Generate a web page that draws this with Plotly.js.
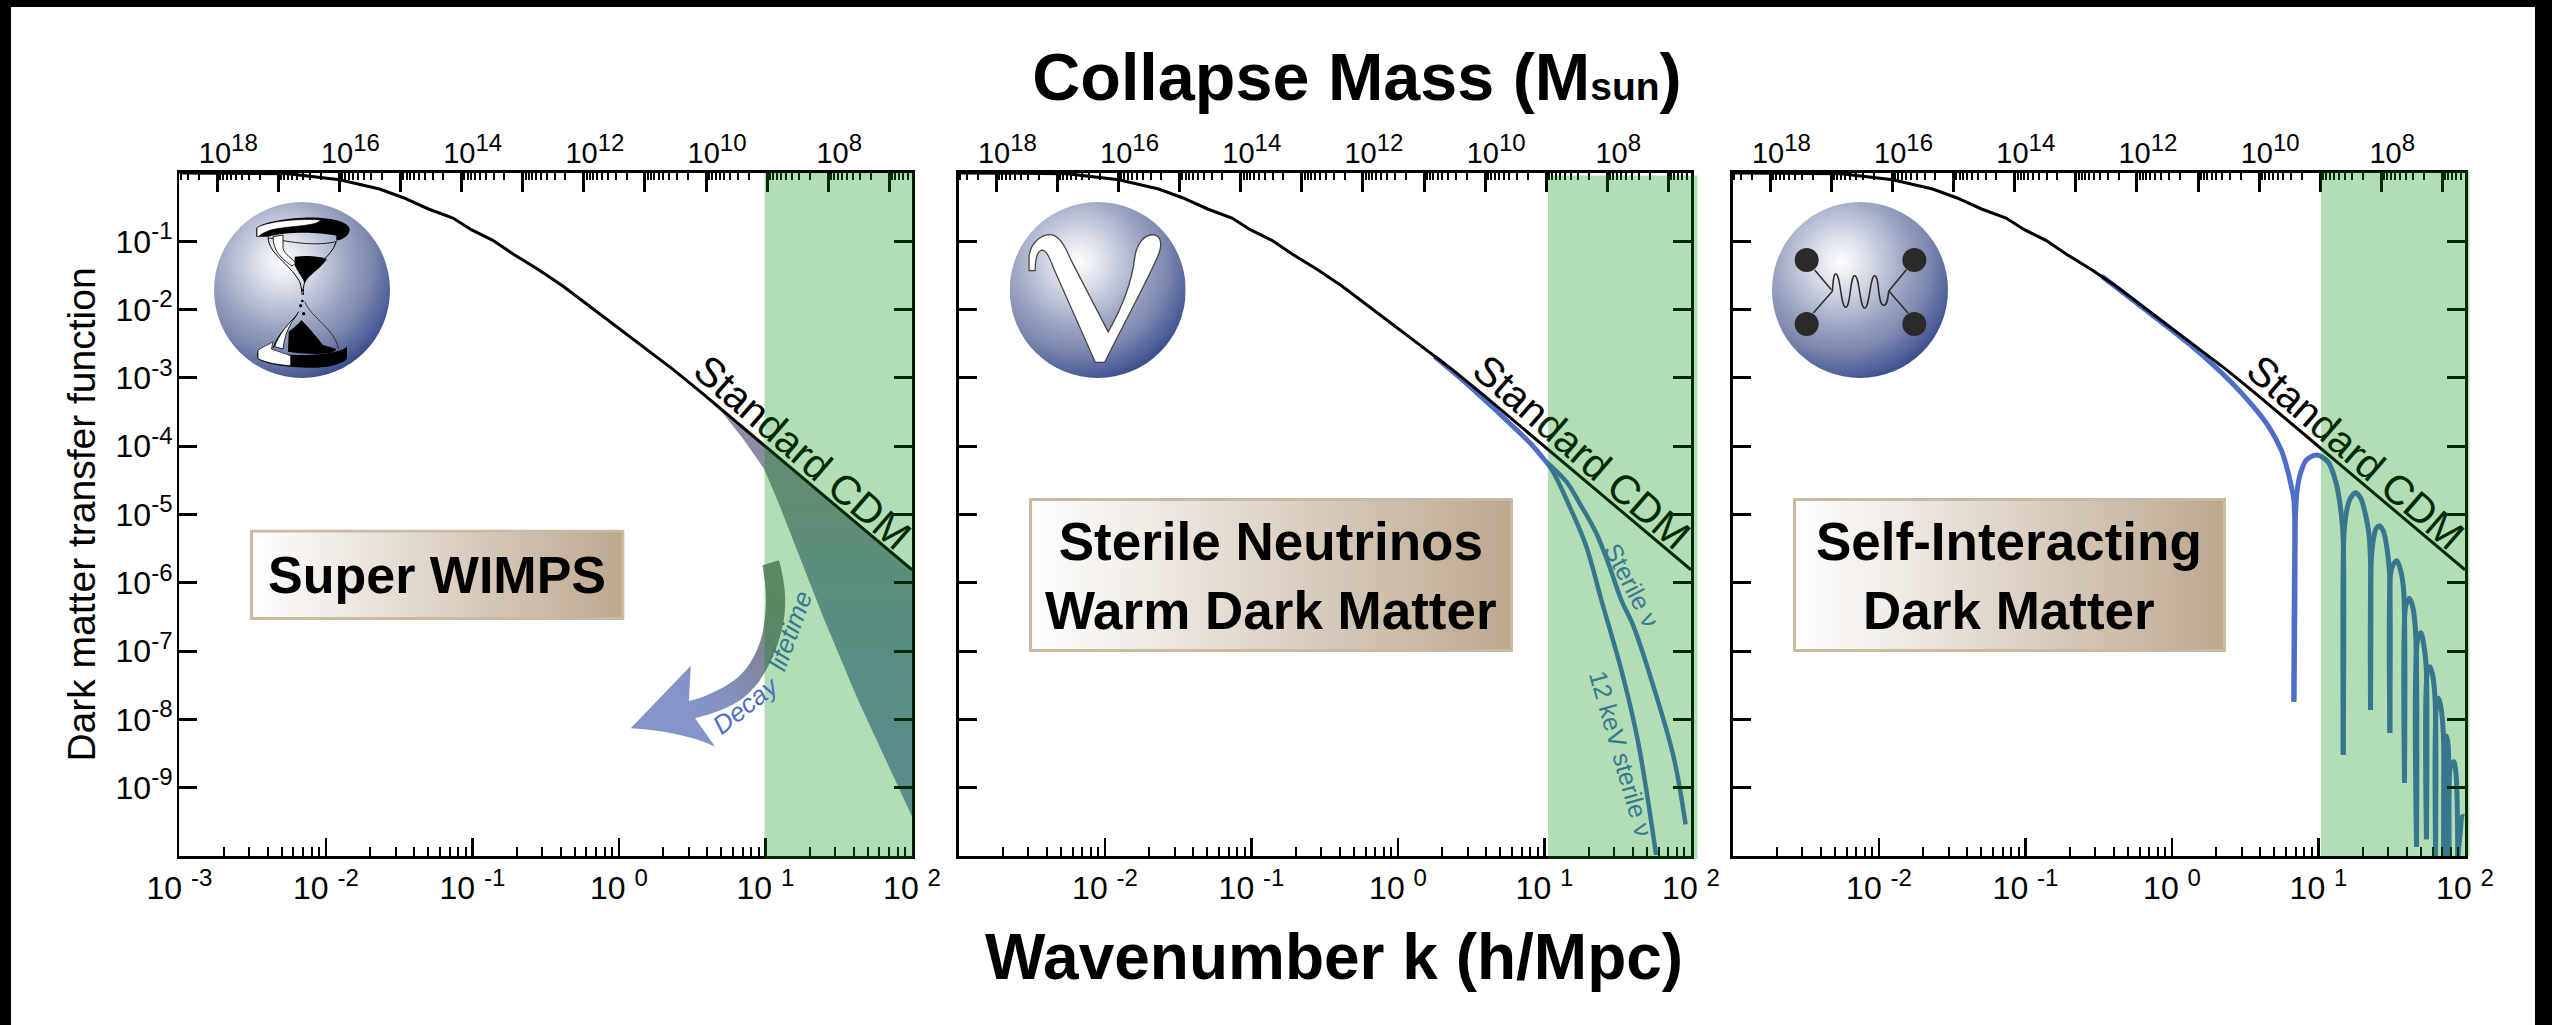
<!DOCTYPE html>
<html><head><meta charset="utf-8">
<script src="https://cdn.plot.ly/plotly-3.0.1.min.js"></script>
<style>html,body{margin:0;padding:0;background:#fff;overflow:hidden}</style>
</head><body><div id="chart" style="width:2552px;height:1025px"></div>
<script>
// ---------- data (log10 k, log10 T) ----------
const cdmLogK = [-3,-2.553,-2.26,-1.906,-1.634,-1.467,-1.30,-1.133,-1.008,-0.861,-0.715,-0.548,-0.381,-0.214,-0.047,0.162,0.371,0.58,0.998,1.373,2];
const cdmLogT = [0,-0.005,-0.01,-0.098,-0.234,-0.366,-0.527,-0.659,-0.83,-0.986,-1.196,-1.415,-1.659,-1.928,-2.196,-2.538,-2.879,-3.245,-4.0,-4.68,-5.81];
const decayEdgeLogK = [0.58,0.706,0.852,0.99,1.081,1.394,1.624,2];
const decayEdgeLogT = [-3.27,-3.51,-3.904,-4.33,-4.787,-6.5,-7.68,-9.42];
const wdmSharedLogK = [0.25,0.423,0.77,0.909,1.0];
const wdmSharedLogT = [-2.69,-3.0,-3.68,-3.97,-4.2];
const sterileLogK = [1.024,1.149,1.24,1.354,1.444,1.524,1.605,1.744,1.883,1.963];
const sterileLogT = [-4.25,-4.52,-4.836,-5.275,-5.764,-6.252,-6.624,-7.52,-8.566,-9.537];
const keV12LogK = [1.058,1.172,1.286,1.388,1.536,1.64,1.762];
const keV12LogT = [-4.373,-4.886,-5.471,-6.252,-7.371,-8.342,-9.985];
const sidmLogK = [-0.481,-0.232,0.125,0.411,0.553,0.66,0.746,0.776,0.81,0.832,0.832,null,
 0.832,0.848,0.871,0.917,0.989,1.064,1.121,1.155,1.169,1.169,null,
 1.169,1.173,1.189,1.217,1.253,1.289,1.319,1.344,1.355,1.355,null,
 1.355,1.36,1.376,1.394,1.417,1.444,1.469,1.485,1.487,null,
 1.487,1.492,1.508,1.535,1.56,1.581,1.587,null,
 1.587,1.594,1.61,1.621,1.64,1.662,1.669,null,
 1.669,1.676,1.699,1.719,1.735,1.737,null,
 1.737,1.744,1.762,1.781,1.797,1.799,null,
 1.799,1.806,1.819,1.835,1.853,1.855,null,
 1.855,1.865,1.874,1.885,1.89,null,
 1.89,1.901,1.924,1.94,1.951,null,
 1.951,1.967,1.981,1.995];
const sidmLogT = [-1.509,-1.919,-2.517,-3.077,-3.413,-3.712,-4.056,-4.251,-4.544,-4.788,-7.74,null,
 -7.74,-4.788,-4.446,-4.202,-4.129,-4.227,-4.544,-4.983,-5.374,-8.52,null,
 -8.52,-5.325,-4.983,-4.764,-4.681,-4.764,-4.983,-5.276,-5.667,-7.863,null,
 -7.863,-5.667,-5.349,-5.203,-5.169,-5.252,-5.52,-5.862,-8.195,null,
 -8.195,-5.862,-5.74,-5.676,-5.813,-6.106,-8.927,null,
 -8.927,-6.35,-6.262,-6.228,-6.325,-6.691,-9.864,null,
 -9.864,-6.838,-6.73,-6.911,-7.228,-9.756,null,
 -9.756,-7.301,-7.228,-7.375,-7.765,-10,null,
 -10,-7.765,-7.692,-7.814,-8.253,-10,null,
 -10,-8.302,-8.243,-8.375,-10,null,
 -10,-8.692,-8.619,-8.839,-10,null,
 -10,-9.669,-9.424,-9.424];
const xTickExps = [-3,-2,-1,0,1,2];
const yTickExps = [-1,-2,-3,-4,-5,-6,-7,-8,-9];
const massExps = [18,17,16,15,14,13,12,11,10,9,8,7];
const massLabelExps = [18,16,14,12,10,8];
const minorDigits = [2,3,4,5,6,7,8,9];
const panelNames = ['Super WIMPS','Sterile Neutrinos<br>Warm Dark Matter','Self-Interacting<br>Dark Matter'];

// ---------- page geometry ----------
const W = 2552, H = 1025, FONT = '"Liberation Sans", Arial, sans-serif';
const panels = [{l:179.4,r:912},{l:958.5,r:1691},{l:1732.5,r:2465}];
const plotTop = 173, plotBottom = 856;
const px = v => v / W, py = v => 1 - v / H;
const pow = a => a.map(v => v === null ? null : Math.pow(10, v));
const BLUE = '#4f6ec8';

const supLabel = (e, size, gap) => `10${gap ? ' ' : ''}<sup><span style="font-size:${size}px">${e}</span></sup>`;

// ---------- traces ----------
const traces = [];
const addCdm = (xa, ya) => traces.push({x: pow(cdmLogK), y: pow(cdmLogT), xaxis: xa, yaxis: ya, mode: 'lines', name: 'Standard CDM',
  line: {color: '#000', width: 3}, hoverinfo: 'skip', showlegend: false});

// panel 1 : decay wedge
const i0 = cdmLogK.indexOf(0.58);
traces.push({x: pow(cdmLogK.slice(i0).concat(decayEdgeLogK.slice().reverse())),
  y: pow(cdmLogT.slice(i0).concat(decayEdgeLogT.slice().reverse())),
  mode: 'lines', fill: 'toself', line: {width: 0}, name: 'Super WIMP decay', hoverinfo: 'skip', showlegend: false,
  fillgradient: {type: 'vertical', colorscale: [[0,'#7d8ec4'],[0.45,'#7e8eb6'],[0.75,'#8a8da2'],[1,'#8e8ca2']]}});
addCdm('x','y');

// panel 2 : sterile neutrinos
traces.push({x: pow(wdmSharedLogK.concat(sterileLogK)), y: pow(wdmSharedLogT.concat(sterileLogT)), xaxis:'x3', yaxis:'y2', mode:'lines',
  name:'Sterile ν', line:{color:BLUE,width:4.5,shape:'spline',smoothing:1}, hoverinfo:'skip', showlegend:false});
traces.push({x: pow(wdmSharedLogK.concat(keV12LogK)), y: pow(wdmSharedLogT.concat(keV12LogT)), xaxis:'x3', yaxis:'y2', mode:'lines',
  name:'12 keV sterile ν', line:{color:BLUE,width:4.5,shape:'spline',smoothing:1}, hoverinfo:'skip', showlegend:false});
addCdm('x3','y2');

// panel 3 : self-interacting
traces.push({x: pow(sidmLogK), y: pow(sidmLogT), xaxis:'x5', yaxis:'y3', mode:'lines', name:'Self-interacting',
  line:{color:BLUE,width:5,shape:'spline',smoothing:0.8}, hoverinfo:'skip', showlegend:false});
addCdm('x5','y3');

// top (mass) axes need something attached to them
['x2','x4','x6'].forEach((xa,i) => traces.push({x:[1e12], y:[1e-5], xaxis:xa, yaxis:i?'y'+(i+1):'y', mode:'markers', opacity:0, hoverinfo:'skip', showlegend:false}));

// ---------- layout ----------
const layout = {
  width: W, height: H, margin: {l:0,r:0,t:0,b:0}, paper_bgcolor:'#fff', plot_bgcolor:'rgba(0,0,0,0)', showlegend:false,
  font: {family: FONT, color:'#000'}, hovermode:false,
  title: {text:'Collapse Mass (M<span style="font-size:39px">sun</span>)', x: px(1357), xanchor:'center', y: py(77), yanchor:'middle', font:{family:FONT,size:66.5,weight:700,color:'#000'}},
  annotations: [], shapes: [], images: []
};

const minorMass = [];
for (let e = 6; e <= 18; e++) minorDigits.forEach(d => minorMass.push(d * Math.pow(10, e)));
const minorK = [];
for (let e = -3; e < 2; e++) minorDigits.forEach(d => minorK.push(d * Math.pow(10, e)));

panels.forEach((p, i) => {
  const n = i * 2;
  const xb = 'xaxis' + (n ? n + 1 : ''), xt = 'xaxis' + (n + 2), yn = 'yaxis' + (i ? i + 1 : '');
  const yRef = 'y' + (i ? i + 1 : ''), xbRef = 'x' + (n ? n + 1 : '');
  const dom = [px(p.l), px(p.r)];
  layout[xb] = {domain: dom, type:'log', range:[-3,2], anchor: yRef, side:'bottom', showgrid:false, zeroline:false,
    showline:true, linecolor:'#000', linewidth:3, ticks:'inside', ticklen:18, tickwidth:2.5, tickcolor:'#000',
    tickmode:'array', tickvals: pow(xTickExps),
    ticktext: xTickExps.map(e => (e === -3 && i > 0) ? '' : supLabel(e, 24, true)),
    tickfont:{family:FONT,size:32,color:'#000'}, ticklabelstandoff: 2, tickangle:0,
    minor:{ticks:'inside', ticklen:9, tickwidth:2, tickcolor:'#000', tickmode:'array', tickvals:minorK, showgrid:false}};
  layout[xt] = {domain: dom, type:'log', range:[18.62,6.63], anchor: yRef, overlaying: xbRef, side:'top', showgrid:false, zeroline:false,
    showline:true, linecolor:'#000', linewidth:3.5, ticks:'inside', ticklen:19, tickwidth:3, tickcolor:'#000',
    tickmode:'array', tickvals: pow(massExps),
    ticktext: massExps.map(e => massLabelExps.includes(e) ? supLabel(e, 24, false) : ''),
    tickfont:{family:FONT,size:29,color:'#000'}, ticklabelshift: -11, ticklabelstandoff: -5, tickangle:0,
    minor:{ticks:'inside', ticklen:7, tickwidth:2, tickcolor:'#000', tickmode:'array', tickvals:minorMass, showgrid:false}};
  layout[yn] = {domain:[py(plotBottom), py(plotTop)], type:'log', range:[-10,0], anchor: xbRef, side:'left', showgrid:false, zeroline:false,
    showline:true, linecolor:'#000', linewidth:2.5, mirror:'ticks', ticks:'inside', ticklen:18, tickwidth:3, tickcolor:'#000',
    tickmode:'array', tickvals: pow(yTickExps), ticktext: yTickExps.map(e => supLabel(e, 24, false)),
    showticklabels: i === 0, tickfont:{family:FONT,size:32,color:'#000'}, ticklabelstandoff: -2};
  if (i === 0) layout[yn].title = {text:'Dark matter transfer function', font:{family:FONT,size:39,color:'#000'}, standoff: 8};
});

// green band, semi-transparent and above everything so ticks and lines are tinted
const GREEN = 'rgba(0,143,10,0.30)';
[[764.5,913.5,173,859],[1548,1697.5,175.5,859],[2321,2469.5,171.5,856]].forEach(b =>
  layout.shapes.push({type:'rect', xref:'paper', yref:'paper', x0:px(b[0]), x1:px(b[1]), y0:py(b[3]), y1:py(b[2]), fillcolor:GREEN, line:{width:0}, layer:'above'}));
// page frame
[[0,11,0,H],[2535,W,0,H],[0,W,0,7]].forEach(b =>
  layout.shapes.push({type:'rect', xref:'paper', yref:'paper', x0:px(b[0]), x1:px(b[1]), y0:py(b[3]), y1:py(b[2]), fillcolor:'#000', line:{width:0}, layer:'below'}));

// ---------- decorative pictures ----------
const svgUri = (vb, body) => 'data:image/svg+xml;charset=utf-8,' + encodeURIComponent(
  `<svg xmlns="http://www.w3.org/2000/svg" viewBox="${vb}" preserveAspectRatio="none">${body}</svg>`);
const addImg = (x, y, w, h, source) => layout.images.push({source, xref:'paper', yref:'paper', x:px(x), y:py(y), sizex:w/W, sizey:h/H, xanchor:'left', yanchor:'top', sizing:'stretch', layer:'above'});
const sphereDef = `<defs><radialGradient id="g" cx="0.39" cy="0.34" r="0.85"><stop offset="0" stop-color="#ffffff"/><stop offset="0.2" stop-color="#d5d9e6"/><stop offset="0.42" stop-color="#a0a8c5"/><stop offset="0.6" stop-color="#7b87ae"/><stop offset="0.75" stop-color="#50609a"/><stop offset="0.88" stop-color="#25397f"/><stop offset="1" stop-color="#1a2e78"/></radialGradient></defs>`;

const hourglass = sphereDef + `<circle cx="292" cy="285" r="264" fill="url(#g)"/>
<path d="M155,125 L155,100 C180,75 300,62 360,70 C410,75 437,90 435,105 C432,125 410,135 395,137 L395,122 C340,110 240,110 190,125 Z" fill="#000"/>
<path d="M157,98 C190,78 290,70 348,75 C335,96 240,92 196,106 C180,112 168,118 160,126 L157,122 Z" fill="#fff" stroke="#000" stroke-width="2"/>
<path d="M190,128 C290,150 350,150 395,140" fill="none" stroke="#000" stroke-width="2.5"/>
<path d="M190,128 C195,180 250,200 285,260 C290,275 292,290 292,300" fill="none" stroke="#000" stroke-width="3"/>
<path d="M395,140 C380,190 320,215 302,255 C295,275 295,290 297,300" fill="none" stroke="#000" stroke-width="3"/>
<path d="M282,350 C260,390 220,410 205,460" fill="none" stroke="#000" stroke-width="3"/>
<path d="M300,320 C320,370 390,400 402,462" fill="none" stroke="#000" stroke-width="2"/>
<path d="M270,185 C310,180 350,185 367,192 C345,225 315,235 300,265 C290,240 275,225 270,210 Z" fill="#000"/>
<path d="M205,125 L235,120 L235,160 C240,180 265,190 272,205 L262,213 C235,195 205,170 205,125 Z" fill="#fff" stroke="#000" stroke-width="2.5"/>
<path d="M290,375 C310,395 340,430 355,450 L395,462 C390,480 320,480 250,470 L252,410 C265,400 285,385 290,375 Z" fill="#000"/>
<path d="M275,362 C245,390 220,425 210,455 L235,462 C240,420 255,385 275,362 Z" fill="#fff" stroke="#000" stroke-width="2.5"/>
<path d="M158,468 L158,490 C185,510 260,520 340,518 C390,515 425,500 427,490 L427,455 C400,480 260,490 158,468 Z" fill="#000"/>
<path d="M160,466 C180,452 200,445 205,440 L200,462 C230,472 240,476 258,482 L258,512 C215,510 175,500 160,490 Z" fill="#fff" stroke="#000" stroke-width="2"/>
<circle cx="293" cy="285" r="4"/><circle cx="288" cy="332" r="5"/><circle cx="293" cy="318" r="4"/><circle cx="297" cy="356" r="5"/>`;
addImg(214, 202, 176, 176, svgUri('28 21 528 528', hourglass));

const nuSymbol = sphereDef + `<circle cx="289.5" cy="373" r="172.5" fill="url(#g)"/>
<path d="M155,335 L155,305 C160,275 185,262 200,265 C215,268 225,285 235,310 L310,455 C330,420 355,370 362,310 C365,285 380,262 400,265 C415,268 415,285 410,300 C395,340 340,440 303,515 L285,515 L205,335 C195,310 190,295 180,295 C170,297 167,315 167,335 Z" fill="#fff" stroke="#444" stroke-width="2.5"/>`;
addImg(1009.7, 202, 176, 176, svgUri('117 200.5 345 345', nuSymbol));

const feynman = sphereDef + `<circle cx="286" cy="286" r="264" fill="url(#g)"/>
<g stroke="#2b2a29" stroke-width="4.5" fill="none"><path d="M150,226 L200,285"/><path d="M146,355 L203,290"/><path d="M425,225 L372,290"/><path d="M372,288 L430,355"/>
<path d="M203,290 C206,250 208,238 213,238 C228,238 228,338 243,338 C258,338 256,243 270,243 C285,243 285,340 300,340 C315,340 316,243 330,243 C345,243 338,332 357,332 C368,332 370,310 372,290"/></g>
<g fill="#2b2a29"><circle cx="126" cy="196" r="36"/><circle cx="449" cy="196" r="36"/><circle cx="126" cy="388" r="36"/><circle cx="449" cy="388" r="36"/></g>`;
addImg(1772, 202, 176, 176, svgUri('22 22 528 528', feynman));

const arrow = `<defs><linearGradient id="a" gradientUnits="userSpaceOnUse" x1="785" y1="600" x2="680" y2="720"><stop offset="0" stop-color="#808785"/><stop offset="0.35" stop-color="#7f8596"/><stop offset="0.8" stop-color="#8593c8"/><stop offset="1" stop-color="#8694cb"/></linearGradient></defs>
<path d="M762.4,565.3 C765,580 767,595 765.5,610.5 C764,625 763,635 759.3,644 C752,664 742,676 728.7,684 C716,692 702,698 688.9,700.9 L690.8,665.7 L630.7,728.3 C660,730 690,735 715.2,746.7 L695,718.3 C712,714 730,708 744,697.5 C760,685 770,665 777.7,644 C784,625 786,610 785,593.7 C784,582 782,570 778.9,560.3 Z" fill="url(#a)"/>`;
addImg(625, 555, 165, 195, svgUri('625 555 165 195', arrow));

const boxes = [[250,529.5,374.6,90.5],[1029,498,484,154],[1793,498,433,154]];
boxes.forEach(b => {
  const body = `<defs><linearGradient id="b"><stop offset="0" stop-color="#ffffff"/><stop offset="1" stop-color="#bda88f"/></linearGradient></defs>
  <rect x="1.5" y="1.5" width="${b[2]-3}" height="${b[3]-3}" fill="url(#b)" stroke="#cbb9a2" stroke-width="3"/>`;
  addImg(b[0], b[1], b[2], b[3], svgUri(`0 0 ${b[2]} ${b[3]}`, body));
});

// ---------- text ----------
const note = (text, x, y, size, extra) => layout.annotations.push(Object.assign({text, xref:'paper', yref:'paper', x:px(x), y:py(y), xanchor:'center', yanchor:'middle', showarrow:false, font:{family:FONT,size,color:'#000'}}, extra||{}));
note('Wavenumber k (h/Mpc)', 1334, 957, 64, {font:{family:FONT,size:64,weight:700,color:'#000'}});
const DARKGREEN = '#002b03', TEAL = '#37788f';
[802, 1581.5, 2355].forEach(cx => note(`Stan<span style="color:${DARKGREEN}">dard CDM</span>`, cx, 452, 41, {textangle:41}));
[[437,574.5,panelNames[0],52],[1271,576,panelNames[1],53],[2009,576,panelNames[2],53]].forEach(t =>
  note(t[2], t[0], t[1], t[3], {font:{family:FONT,size:t[3],weight:700,color:'#000'}}));
note('<i>Decay</i>', 746, 705, 26, {textangle:-38, font:{family:FONT,size:26,color:BLUE}});
note('<i>lifetime</i>', 790, 631, 26, {textangle:-70, font:{family:FONT,size:26,color:TEAL}});
note('Sterile ν', 1632, 585, 25, {textangle:62.6, font:{family:FONT,size:25,color:TEAL}});
note('12 keV sterile ν', 1621.5, 753.5, 25, {textangle:74, font:{family:FONT,size:25,color:TEAL}});

Plotly.newPlot('chart', traces, layout, {displayModeBar:false, responsive:false, staticPlot:true});
</script></body></html>
